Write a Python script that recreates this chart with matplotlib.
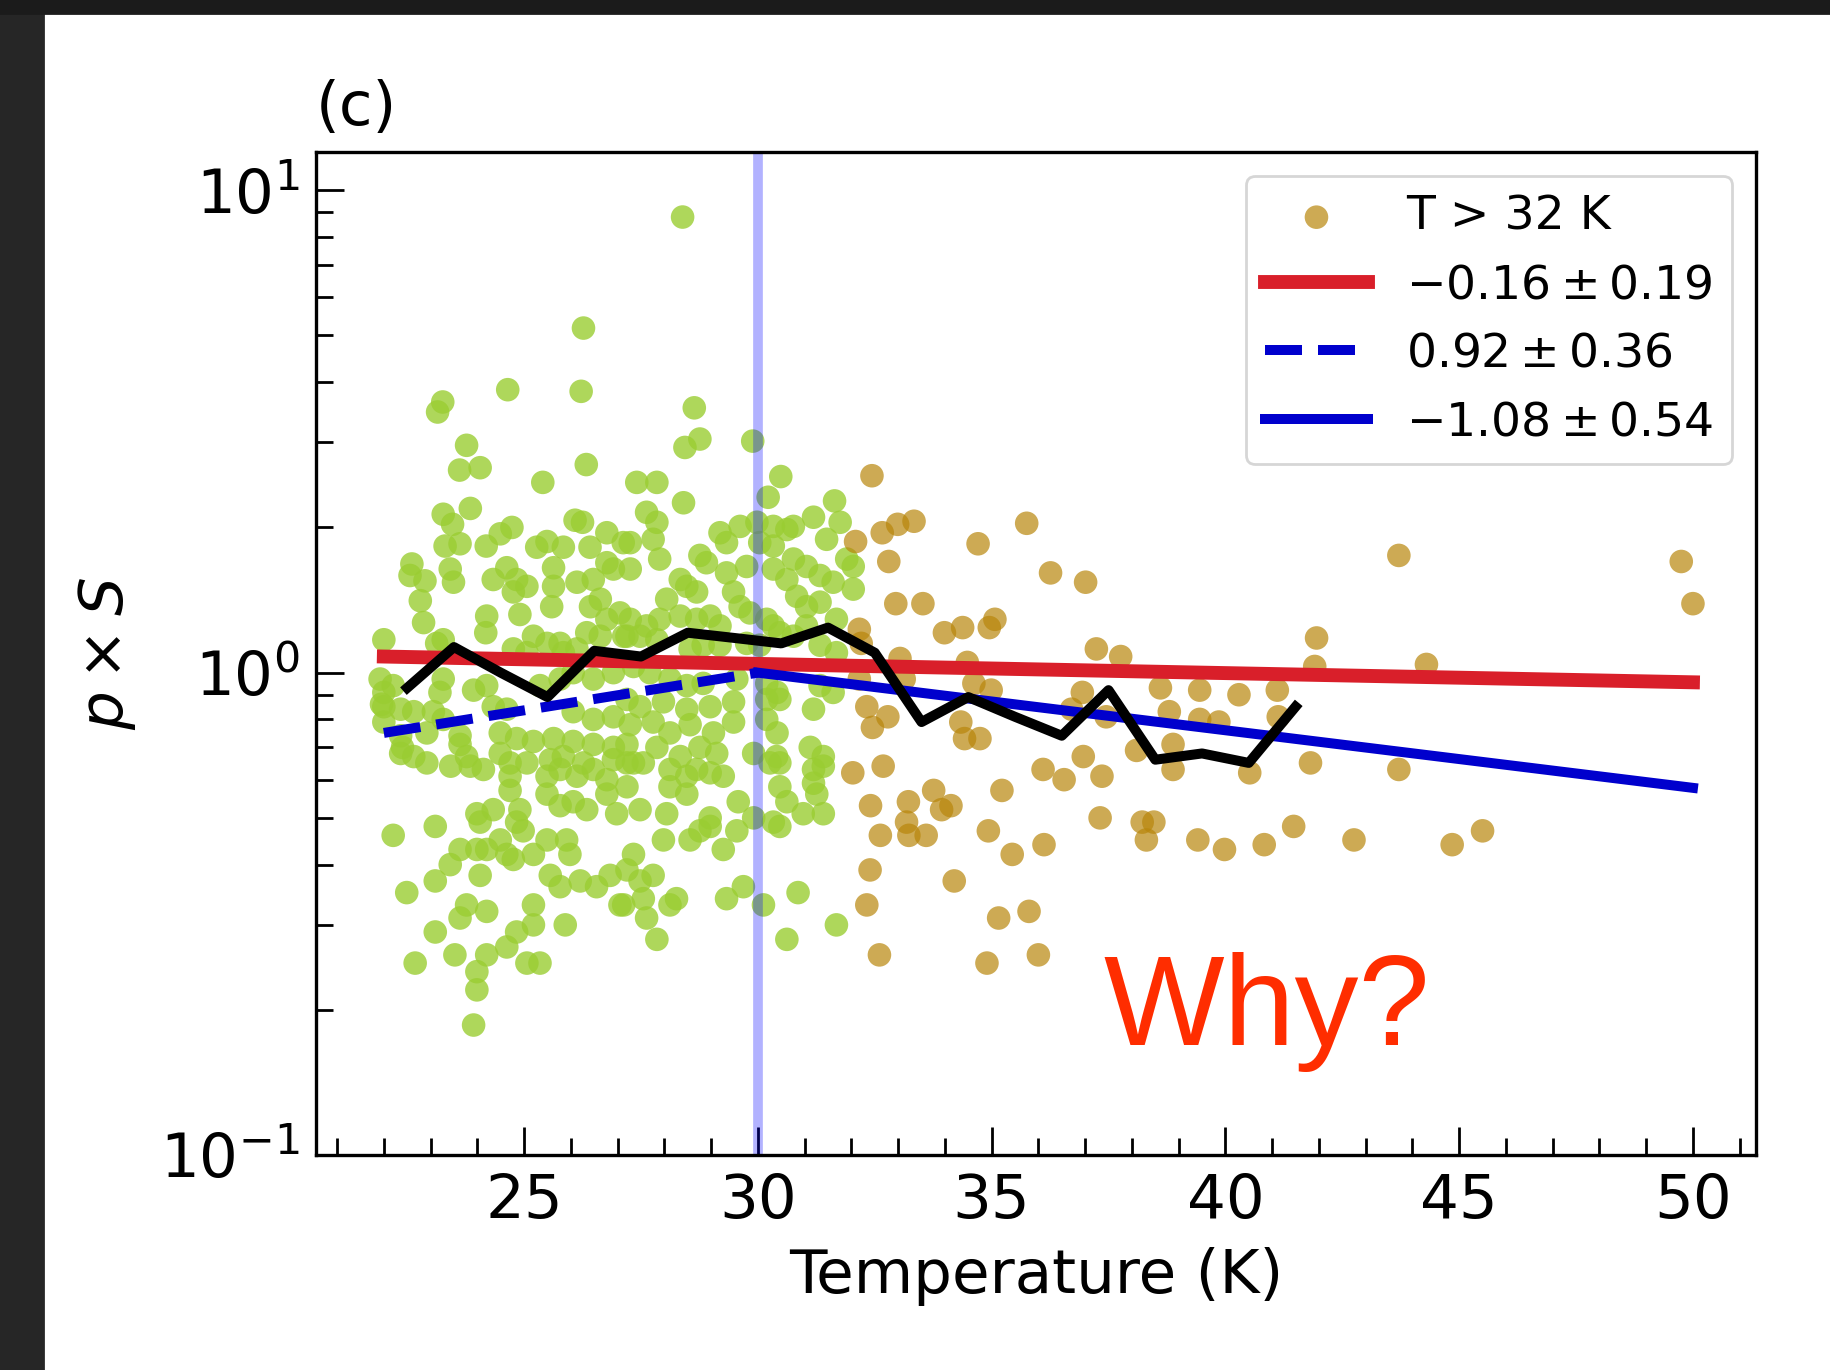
import matplotlib.pyplot as plt
from matplotlib.ticker import MultipleLocator
from matplotlib.patches import Rectangle

# Точки T <= 32 K (зеленые), (T, p*S)
green_pts = [
    (28.39, 8.80), (26.27, 5.18), (24.65, 3.86), (26.22, 3.83), (23.26, 3.64), (23.15, 3.47),
    (28.64, 3.54), (29.89, 3.02), (28.76, 3.05), (28.44, 2.93), (23.77, 2.96), (23.62, 2.63),
    (24.06, 2.66), (26.33, 2.70), (30.49, 2.55), (25.40, 2.48), (27.41, 2.48), (27.84, 2.48),
    (23.85, 2.19), (23.27, 2.13), (23.47, 2.03), (26.09, 2.07), (26.25, 2.05), (26.77, 1.95),
    (24.74, 2.00), (24.49, 1.94), (23.31, 1.83), (23.63, 1.85), (24.19, 1.83), (25.27, 1.82),
    (25.49, 1.87), (25.84, 1.82), (26.41, 1.82), (27.12, 1.86), (22.60, 1.68), (23.42, 1.64),
    (25.63, 1.65), (24.63, 1.65), (22.56, 1.59), (22.88, 1.55), (23.49, 1.54), (24.34, 1.56),
    (24.84, 1.56), (25.06, 1.51), (25.63, 1.51), (26.13, 1.54), (26.48, 1.56), (26.77, 1.69),
    (26.91, 1.64), (24.77, 1.47), (22.78, 1.41), (25.59, 1.37), (26.42, 1.37), (26.63, 1.42),
    (24.91, 1.32), (24.20, 1.31), (24.18, 1.21), (22.85, 1.27), (22.00, 1.17), (23.27, 1.17),
    (23.13, 1.15), (25.20, 1.19), (25.49, 1.15), (25.77, 1.15), (26.34, 1.21), (26.77, 1.29),
    (27.05, 1.33), (26.63, 1.19), (27.13, 1.19), (24.77, 1.12), (25.06, 1.10), (25.84, 1.10),
    (26.13, 1.12), (21.92, 0.97), (22.00, 0.91), (22.20, 0.94), (23.27, 0.97), (23.20, 0.91),
    (23.92, 0.92), (24.20, 0.94), (25.34, 0.94), (25.77, 0.97), (26.05, 1.00), (26.48, 0.97),
    (26.91, 1.00), (22.00, 0.85), (22.36, 0.84), (22.64, 0.83), (23.06, 0.83), (23.27, 0.80),
    (24.34, 0.85), (24.63, 0.84), (26.05, 0.83), (26.48, 0.80), (26.91, 0.81), (22.36, 0.74),
    (22.92, 0.75), (23.63, 0.74), (24.49, 0.75), (24.84, 0.73), (25.20, 0.72), (25.63, 0.73),
    (26.05, 0.72), (26.48, 0.71), (26.91, 0.70), (22.36, 0.68), (22.64, 0.67), (23.63, 0.71),
    (23.77, 0.67), (24.49, 0.68), (24.70, 0.65), (25.56, 0.66), (25.84, 0.67), (26.27, 0.65),
    (26.91, 0.66), (27.20, 0.65), (21.95, 0.86), (22.00, 0.79), (22.40, 0.70),
    (28.41, 2.25), (31.64, 2.27), (27.62, 2.15), (27.84, 2.05), (30.22, 2.31), (31.19, 2.10),
    (29.62, 2.01), (29.98, 2.05), (30.33, 2.01), (30.62, 1.98), (30.76, 2.01), (29.19, 1.95),
    (29.33, 1.86), (27.27, 1.86), (27.76, 1.89), (31.47, 1.89), (31.76, 2.05), (30.04, 1.86),
    (30.33, 1.83), (28.76, 1.75), (28.90, 1.69), (27.90, 1.72), (30.76, 1.72), (31.04, 1.66),
    (31.90, 1.72), (32.04, 1.66), (27.27, 1.64), (29.33, 1.61), (29.76, 1.66), (28.34, 1.56),
    (28.48, 1.51), (28.69, 1.47), (30.33, 1.64), (30.62, 1.56), (31.33, 1.59), (31.61, 1.54),
    (32.04, 1.49), (28.05, 1.42), (29.48, 1.47), (29.62, 1.37), (29.83, 1.33), (30.83, 1.44),
    (31.04, 1.37), (31.33, 1.40), (27.27, 1.29), (27.62, 1.25), (27.90, 1.29), (28.34, 1.31),
    (28.69, 1.29), (28.98, 1.31), (29.19, 1.25), (30.19, 1.29), (30.33, 1.25), (31.04, 1.25),
    (31.68, 1.29), (27.20, 1.19), (27.48, 1.19), (27.84, 1.17), (28.55, 1.12), (28.83, 1.14),
    (29.19, 1.14), (29.76, 1.15), (30.04, 1.14), (30.47, 1.21), (30.76, 1.19), (31.33, 1.14),
    (31.68, 1.10), (27.34, 1.03), (27.69, 1.00), (28.12, 0.97), (28.48, 0.94), (28.83, 0.95),
    (29.55, 0.97), (30.19, 0.95), (30.41, 0.91), (31.33, 0.94), (31.61, 0.91), (27.20, 0.88),
    (27.48, 0.85), (27.98, 0.87), (28.48, 0.84), (28.98, 0.85), (29.48, 0.87), (30.19, 0.88),
    (30.47, 0.88), (31.19, 0.84), (27.27, 0.78), (27.76, 0.79), (28.12, 0.75), (28.55, 0.78),
    (29.05, 0.75), (29.48, 0.79), (30.19, 0.80), (30.41, 0.75), (27.20, 0.71), (27.84, 0.70),
    (28.34, 0.67), (28.76, 0.70), (29.12, 0.68), (29.91, 0.68), (30.40, 0.67), (31.12, 0.70),
    (31.40, 0.67),
    (22.92, 0.65), (23.43, 0.64), (23.85, 0.64), (24.13, 0.63), (24.70, 0.61), (24.70, 0.57),
    (25.06, 0.65), (25.49, 0.61), (25.77, 0.63), (26.13, 0.61), (26.48, 0.63), (26.77, 0.60),
    (25.49, 0.56), (25.77, 0.53), (26.05, 0.54), (26.34, 0.52), (26.77, 0.56), (26.98, 0.51),
    (22.20, 0.46), (23.10, 0.48), (23.99, 0.51), (24.34, 0.52), (24.06, 0.49), (24.91, 0.52),
    (24.84, 0.49), (24.98, 0.47), (23.63, 0.43), (23.99, 0.43), (24.20, 0.43), (24.49, 0.45),
    (24.63, 0.42), (24.77, 0.41), (25.20, 0.42), (25.49, 0.45), (25.91, 0.45), (25.98, 0.42),
    (23.42, 0.40), (25.56, 0.38), (25.77, 0.36), (26.20, 0.37), (26.55, 0.36), (26.84, 0.38),
    (27.05, 0.33), (23.10, 0.37), (24.06, 0.38), (22.49, 0.35), (23.77, 0.33), (24.20, 0.32),
    (23.63, 0.31), (25.20, 0.33), (25.20, 0.30), (24.84, 0.29), (25.88, 0.30), (23.10, 0.29),
    (23.52, 0.26), (24.20, 0.26), (24.63, 0.27), (25.06, 0.25), (25.34, 0.25), (22.67, 0.25),
    (23.99, 0.24), (23.99, 0.22), (23.92, 0.186),
    (27.34, 0.65), (27.55, 0.65), (27.20, 0.58), (28.12, 0.63), (28.48, 0.61), (28.69, 0.63),
    (28.98, 0.62), (29.26, 0.61), (28.12, 0.58), (28.48, 0.56), (30.26, 0.65), (30.47, 0.65),
    (31.19, 0.63), (31.40, 0.64), (30.47, 0.58), (30.62, 0.54), (31.19, 0.59), (31.26, 0.56),
    (29.58, 0.54), (27.48, 0.52), (28.05, 0.51), (28.98, 0.50), (28.98, 0.48), (29.91, 0.50),
    (30.33, 0.49), (30.47, 0.48), (30.97, 0.51), (31.40, 0.51), (27.98, 0.45), (28.55, 0.45),
    (28.76, 0.47), (29.55, 0.47), (29.26, 0.43), (27.34, 0.42), (27.20, 0.39), (27.76, 0.38),
    (27.48, 0.37), (27.13, 0.33), (27.55, 0.34), (28.12, 0.33), (28.26, 0.34), (29.33, 0.34),
    (29.69, 0.36), (30.12, 0.33), (30.86, 0.35), (27.62, 0.31), (30.62, 0.28), (31.68, 0.30),
    (27.84, 0.28),
]

# Точки T > 32 K (коричневые)
brown_pts = [
    (32.44, 2.56), (32.09, 1.87), (32.66, 1.95), (32.99, 2.03), (33.34, 2.06), (32.80, 1.70),
    (34.71, 1.85), (35.75, 2.04), (36.26, 1.61), (37.01, 1.54), (32.95, 1.39), (33.53, 1.39),
    (33.99, 1.21), (34.38, 1.24), (34.95, 1.24), (35.07, 1.29), (32.17, 1.23), (32.21, 1.15),
    (33.04, 1.07), (33.13, 0.97), (34.48, 1.05), (34.62, 0.95), (34.99, 0.92), (37.24, 1.12),
    (37.76, 1.08), (41.95, 1.18), (41.91, 1.03), (38.61, 0.93), (39.45, 0.92), (40.29, 0.90),
    (41.11, 0.92), (36.94, 0.91), (32.17, 0.97), (32.33, 0.85), (32.78, 0.81), (32.45, 0.77),
    (34.34, 0.79), (34.42, 0.73), (34.75, 0.73), (36.71, 0.84), (37.45, 0.81), (38.80, 0.83),
    (39.45, 0.80), (39.86, 0.79), (41.13, 0.81), (38.10, 0.69), (38.88, 0.71), (36.96, 0.67),
    (36.10, 0.63), (36.55, 0.60), (37.36, 0.61), (38.88, 0.63), (40.52, 0.62), (41.82, 0.65),
    (32.03, 0.62), (32.68, 0.64), (32.41, 0.53), (33.22, 0.54), (33.76, 0.57), (33.93, 0.52),
    (34.13, 0.53), (35.22, 0.57), (33.18, 0.49), (33.23, 0.46), (33.60, 0.46), (32.62, 0.46),
    (34.93, 0.47), (37.32, 0.50), (38.22, 0.49), (38.47, 0.49), (38.31, 0.45), (39.41, 0.45),
    (39.98, 0.43), (40.83, 0.44), (41.46, 0.48), (42.75, 0.45), (35.44, 0.42), (36.12, 0.44),
    (32.40, 0.39), (34.20, 0.37), (43.71, 1.75), (43.71, 0.63), (44.30, 1.04), (44.85, 0.44),
    (45.50, 0.47), (49.75, 1.70), (50.00, 1.39), (32.33, 0.33), (32.60, 0.26), (35.15, 0.31),
    (35.80, 0.32), (34.90, 0.25), (36.00, 0.26),
]

# Скользящая медиана (черная линия)
median_T = [22.5, 23.5, 24.5, 25.5, 26.5, 27.5, 28.5, 29.5, 30.5, 31.5,
            32.5, 33.5, 34.5, 35.5, 36.5, 37.5, 38.5, 39.5, 40.5, 41.5]
median_y = [0.93, 1.13, 1.00, 0.89, 1.11, 1.08, 1.21, 1.18, 1.15, 1.24,
            1.10, 0.79, 0.89, 0.81, 0.74, 0.92, 0.66, 0.68, 0.65, 0.85]

# Аппроксимации (концы отрезков)
fit_all_T = [22, 50]
fit_all_y = [1.08, 0.955]
fit_low_T = [22, 30]
fit_low_y = [0.75, 1.0]
fit_high_T = [30, 50]
fit_high_y = [1.0, 0.577]

T_split = 30
legend_labels = ['T > 32 K', r'$-0.16\pm0.19$', r'$0.92\pm0.36$', r'$-1.08\pm0.54$']


def main():
    green_T, green_y = zip(*green_pts)
    brown_T, brown_y = zip(*brown_pts)

    fig = plt.figure(figsize=(9.15, 6.85), dpi=200)
    # Темная рамка скриншота
    fig.patches.append(Rectangle((0, 0), 43 / 1830, 1, transform=fig.transFigure,
                                 color='#262626', zorder=-1))
    fig.patches.append(Rectangle((0, 1 - 13 / 1370), 1, 13 / 1370, transform=fig.transFigure,
                                 color='#1b1b1b', zorder=-1))

    ax = fig.add_axes([0.1727, 0.1569, 0.7869, 0.7321])

    ax.scatter(green_T, green_y, s=72, color='yellowgreen', alpha=0.8, edgecolors='none')
    sc = ax.scatter(brown_T, brown_y, s=72, color='darkgoldenrod', alpha=0.7, edgecolors='none')
    ax.axvline(T_split, color='blue', alpha=0.3, lw=3.5)

    l1, = ax.plot(fit_all_T, fit_all_y, color='#d91f2a', lw=5)
    l2, = ax.plot(fit_low_T, fit_low_y, color='mediumblue', lw=3.6, ls='--')
    l3, = ax.plot(fit_high_T, fit_high_y, color='mediumblue', lw=3.6)
    ax.plot(median_T, median_y, color='black', lw=3.6)

    ax.set_yscale('log')
    ax.set_xlim(20.55, 51.35)
    ax.set_ylim(0.1, 12.0)
    ax.xaxis.set_major_locator(MultipleLocator(5))
    ax.xaxis.set_minor_locator(MultipleLocator(1))
    ax.tick_params(which='both', direction='in', labelsize=22, width=1.0)
    ax.tick_params(which='major', length=10)
    ax.tick_params(which='minor', length=6)
    ax.tick_params(axis='x', pad=6)
    ax.tick_params(axis='y', pad=6)
    for sp in ax.spines.values():
        sp.set_linewidth(1.2)

    ax.set_xlabel('Temperature (K)', fontsize=22, labelpad=6)
    ax.set_ylabel(r'$p\times S$', fontsize=22, labelpad=8)
    ax.text(0.0, 1.014, '(c)', transform=ax.transAxes, fontsize=22, ha='left', va='bottom')

    ax.legend([sc, l1, l2, l3], legend_labels, loc='upper right', fontsize=17,
              handlelength=2.2)

    ax.text(0.5465, 0.110, 'Why?', transform=ax.transAxes, color='#ff2d00', fontsize=46,
            family='Liberation Sans', ha='left', va='baseline')

    fig.savefig('out.png', dpi=200)


if __name__ == '__main__':
    main()
